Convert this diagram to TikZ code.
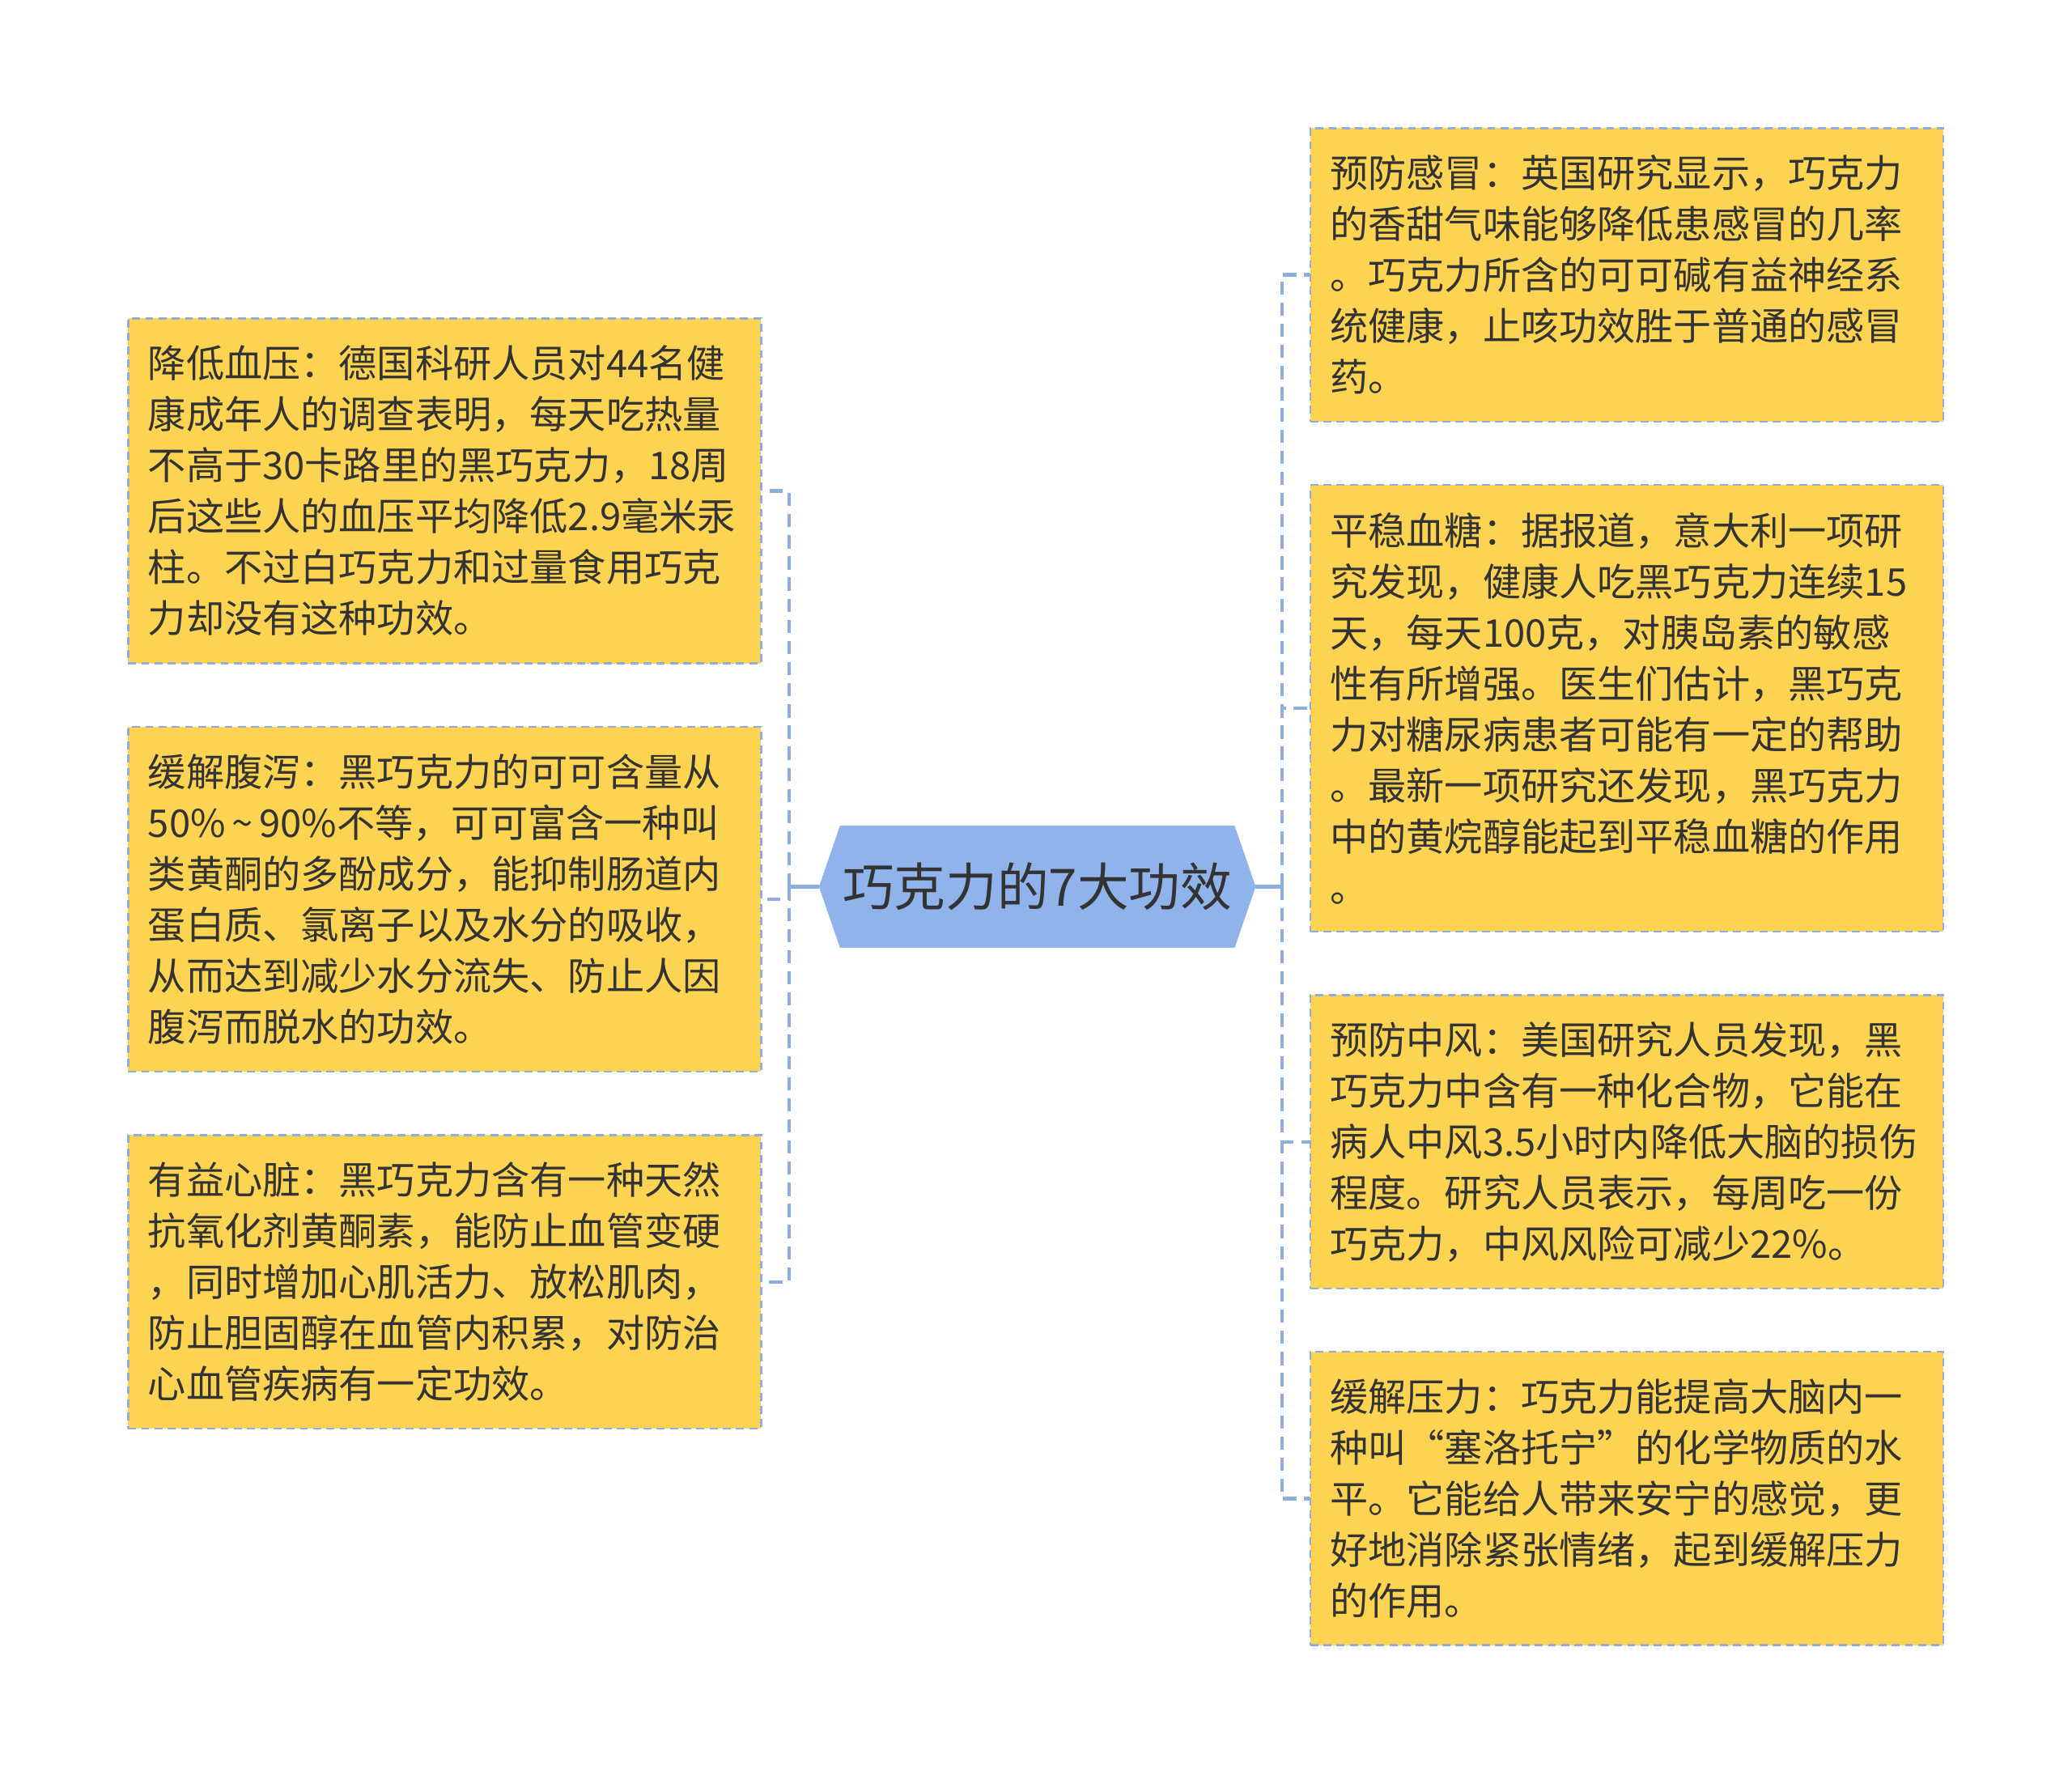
\documentclass[tikz,border=0pt]{standalone}
\usepackage{fontspec}
\newfontfamily\cjk{Noto Sans CJK SC}
\usetikzlibrary{shapes.symbols}
\definecolor{leaffill}{HTML}{FDD352}
\definecolor{leafline}{HTML}{8FAEDE}
\definecolor{linkline}{HTML}{8FAEE0}
\definecolor{topicfill}{HTML}{8FB3EA}
\definecolor{textgray}{HTML}{333333}

\begin{document}
\begin{tikzpicture}[x=1pt, y=-1pt,
    topic/.style={signal, signal to=west and east, signal pointer angle=142, minimum width=330pt, minimum height=92pt, inner sep=0pt, fill=topicfill, draw=topicfill, text=textgray, font={\cjk\fontsize{39}{46}\selectfont}},
    leaf/.style={rectangle, minimum width=479pt, text width=449pt, inner xsep=15pt, inner ysep=0pt, align=left, fill=leaffill, draw=leafline, line width=1.5pt, dash pattern=on 6pt off 4pt, text=textgray, font={\cjk\fontsize{28.9}{38.6}\selectfont}},
    link/.style={draw=linkline, line width=2.6pt, dash pattern=on 10pt off 6pt},
    stem/.style={draw=linkline, line width=2.6pt}
]
\useasboundingbox (0,0) rectangle (1568,1343);
\fill[white] (0,0) rectangle (1568,1343);

% Central topic
\node[topic] (topic) at (785,671) {巧克力的7大功效};

% Left branches
\node[leaf, minimum height=261pt] (left1) at (336.5,371.5) {降低血压：德国科研人员对44名健\\康成年人的调查表明，每天吃热量\\不高于30卡路里的黑巧克力，18周\\后这些人的血压平均降低2.9毫米汞\\柱。不过白巧克力和过量食用巧克\\力却没有这种功效。};
\node[leaf, minimum height=261pt] (left2) at (336.5,680.5) {缓解腹泻：黑巧克力的可可含量从\\50\%\,\textasciitilde\,90\%不等，可可富含一种叫\\类黄酮的多酚成分，能抑制肠道内\\蛋白质、氯离子以及水分的吸收，\\从而达到减少水分流失、防止人因\\腹泻而脱水的功效。};
\node[leaf, minimum height=222pt] (left3) at (336.5,970) {有益心脏：黑巧克力含有一种天然\\抗氧化剂黄酮素，能防止血管变硬\\，同时增加心肌活力、放松肌肉，\\防止胆固醇在血管内积累，对防治\\心血管疾病有一定功效。};

% Right branches
\node[leaf, minimum height=222pt] (right1) at (1231,208) {预防感冒：英国研究显示，巧克力\\的香甜气味能够降低患感冒的几率\\。巧克力所含的可可碱有益神经系\\统健康，止咳功效胜于普通的感冒\\药。};
\node[leaf, minimum height=338pt] (right2) at (1231,536) {平稳血糖：据报道，意大利一项研\\究发现，健康人吃黑巧克力连续15\\天，每天100克，对胰岛素的敏感\\性有所增强。医生们估计，黑巧克\\力对糖尿病患者可能有一定的帮助\\。最新一项研究还发现，黑巧克力\\中的黄烷醇能起到平稳血糖的作用\\。};
\node[leaf, minimum height=222pt] (right3) at (1231,864) {预防中风：美国研究人员发现，黑\\巧克力中含有一种化合物，它能在\\病人中风3.5小时内降低大脑的损伤\\程度。研究人员表示，每周吃一份\\巧克力，中风风险可减少22\%。};
\node[leaf, minimum height=222pt] (right4) at (1231,1134) {缓解压力：巧克力能提高大脑内一\\种叫“塞洛托宁”的化学物质的水\\平。它能给人带来安宁的感觉，更\\好地消除紧张情绪，起到缓解压力\\的作用。};

% Connectors
\coordinate (lhub) at (597,671);
\coordinate (rhub) at (970,671);
\draw[stem] (topic.west) -- (lhub);
\draw[stem] (topic.east) -- (rhub);
\draw[link] (lhub) |- (left1.east);
\draw[link] (lhub) |- (left2.east);
\draw[link] (lhub) |- (left3.east);
\draw[link] (rhub) |- (right1.west);
\draw[link] (rhub) |- (right2.west);
\draw[link] (rhub) |- (right3.west);
\draw[link] (rhub) |- (right4.west);

\end{tikzpicture}
\end{document}
